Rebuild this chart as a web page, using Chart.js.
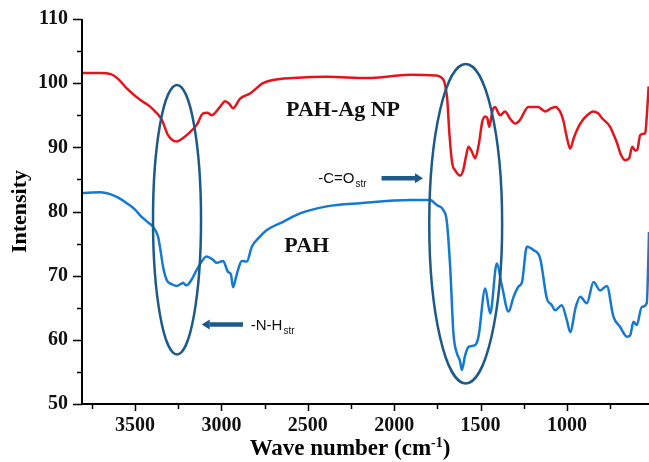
<!DOCTYPE html>
<html>
<head>
<meta charset="utf-8">
<title>FTIR - PAH / PAH-Ag NP</title>
<script src="https://cdn.jsdelivr.net/npm/chart.js@4"></script>
<style>
  html, body { margin: 0; padding: 0; background: #fff; }
</style>
</head>
<body>
<canvas id="ftir" width="649" height="462"></canvas>
<script>
// PAH-Ag NP spectrum: wavenumber (cm-1) / intensity
const agWave = [3807, 3700, 3640, 3600, 3548, 3471, 3420, 3384, 3345, 3309, 3259, 3230, 3201, 3143, 3106, 3080, 3056, 3008, 2979, 2955, 2933, 2892, 2834, 2759, 2700, 2585, 2388, 2157, 1908, 1760, 1734, 1710, 1693, 1680, 1664, 1647, 1618, 1600, 1585, 1570, 1550, 1531, 1510, 1490, 1473, 1460, 1450, 1430, 1415, 1400, 1387, 1358, 1330, 1300, 1271, 1224, 1167, 1140, 1126, 1090, 1068, 1040, 1022, 1000, 981, 960, 923, 883, 847, 820, 795, 750, 730, 709, 690, 663, 640, 622, 605, 593, 576, 555, 547, 535, 527];
const agInt  = [101.6, 101.6, 101.4, 100.7, 99.2, 97.4, 96.5, 95.6, 94.3, 91.9, 90.9, 91.3, 91.9, 93.5, 95.3, 95.4, 95.0, 96.3, 97.2, 96.8, 96.1, 97.6, 98.4, 100.0, 100.5, 100.8, 101.0, 100.8, 101.3, 101.2, 101.0, 100.2, 97.5, 92.0, 87.5, 86.4, 85.6, 86.5, 88.5, 90.1, 89.3, 88.3, 90.5, 94.0, 94.8, 94.5, 93.2, 95.8, 96.3, 95.5, 95.0, 95.6, 94.5, 93.7, 94.3, 96.3, 96.3, 95.8, 95.6, 96.1, 96.3, 95.6, 94.3, 91.5, 89.8, 91.5, 93.7, 95.0, 95.6, 95.3, 94.5, 93.2, 92.0, 90.6, 89.0, 88.0, 88.3, 90.1, 89.5, 89.6, 91.9, 92.1, 92.2, 96.0, 99.5];

// PAH spectrum
const pahWave = [3807, 3700, 3645, 3600, 3548, 3500, 3471, 3420, 3396, 3367, 3350, 3338, 3316, 3290, 3259, 3235, 3222, 3210, 3201, 3170, 3143, 3085, 3050, 3027, 2990, 2962, 2945, 2933, 2915, 2904, 2882, 2853, 2824, 2780, 2737, 2643, 2545, 2390, 2197, 1908, 1792, 1753, 1715, 1696, 1676, 1657, 1637, 1620, 1608, 1590, 1570, 1531, 1512, 1473, 1444, 1406, 1377, 1338, 1309, 1280, 1260, 1232, 1194, 1155, 1116, 1090, 1068, 1030, 1000, 981, 950, 923, 885, 846, 808, 769, 731, 692, 653, 634, 615, 596, 567, 538, 529, 525];
const pahInt  = [82.9, 83.0, 82.7, 82.2, 81.3, 80.3, 79.4, 78.2, 77.6, 76.1, 73.5, 71.4, 69.3, 68.7, 68.4, 68.7, 68.9, 68.6, 68.5, 69.5, 70.9, 73.0, 72.5, 72.0, 72.3, 70.6, 70.2, 68.2, 69.8, 70.9, 72.3, 72.2, 74.5, 76.0, 77.1, 78.4, 79.7, 80.8, 81.3, 81.8, 81.8, 81.0, 80.2, 78.6, 71.4, 61.0, 57.9, 56.8, 55.3, 57.5, 58.9, 59.2, 60.5, 68.0, 64.1, 71.9, 68.5, 64.4, 66.7, 68.3, 69.0, 74.5, 74.0, 72.7, 66.4, 65.5, 64.6, 65.4, 63.0, 61.2, 65.0, 66.7, 65.7, 69.0, 67.7, 68.4, 63.6, 62.0, 60.5, 60.7, 62.8, 62.3, 65.1, 65.7, 72.4, 76.8];

const xTicks = [3500, 3000, 2500, 2000, 1500, 1000];
const yTicks = [50, 60, 70, 80, 90, 100, 110];

const SERIF = '"Liberation Serif", "Times New Roman", serif';
const SANS = '"Liberation Sans", Arial, sans-serif';
const MARK = '#1d5a88';

// callouts, in data units
const ellipses = [
  { w: 3257, v: 78.7, rw: 139, rv: 21.0 },
  { w: 1586, v: 78.1, rw: 211, rv: 24.9 }
];
const arrows = [
  { from: [2073, 85.2], to: [1833, 85.2] },
  { from: [2875, 62.4], to: [3114, 62.4] }
];
const notes = [
  { w: 2296, v: 95.8, text: 'PAH-Ag NP' },
  { w: 2506, v: 74.6, text: 'PAH' }
];
const bands = [
  { w: 2440, v: 84.4, main: '-C=O', sub: 'str' },
  { w: 2830, v: 61.5, main: '-N-H', sub: 'str' }
];

const toPts = (xs, ys) => xs.map((w, i) => ({ x: w, y: ys[i] }));

const decor = {
  id: 'decor',
  afterDatasetsDraw(chart) {
    const { ctx, chartArea: a, scales: { x, y } } = chart;
    ctx.save();

    // axis lines
    ctx.strokeStyle = '#000';
    ctx.lineWidth = 2;
    ctx.beginPath();
    ctx.moveTo(a.left, a.top);
    ctx.lineTo(a.left, a.bottom);
    ctx.lineTo(chart.width, a.bottom);
    ctx.stroke();

    // tick marks, minor ones at half steps
    ctx.lineWidth = 1.5;
    ctx.beginPath();
    for (let v = 50; v <= 110; v += 5) {
      const py = Math.round(y.getPixelForValue(v)) + 0.5;
      const len = v % 10 === 0 ? 9 : 5;
      ctx.moveTo(a.left - len, py);
      ctx.lineTo(a.left, py);
    }
    for (let w = 750; w <= 3750; w += 250) {
      const px = Math.round(x.getPixelForValue(w)) + 0.5;
      const len = w % 500 === 0 ? 7 : 5;
      ctx.moveTo(px, a.bottom);
      ctx.lineTo(px, a.bottom + len);
    }
    ctx.stroke();

    // band ellipses
    ctx.strokeStyle = MARK;
    ctx.lineWidth = 2.5;
    ellipses.forEach(e => {
      const cx = x.getPixelForValue(e.w);
      const cy = y.getPixelForValue(e.v);
      const rx = Math.abs(x.getPixelForValue(e.w + e.rw) - cx);
      const ry = Math.abs(y.getPixelForValue(e.v + e.rv) - cy);
      ctx.beginPath();
      ctx.ellipse(cx, cy, rx, ry, 0, 0, Math.PI * 2);
      ctx.stroke();
    });

    // arrows
    ctx.fillStyle = MARK;
    arrows.forEach(ar => {
      const x0 = x.getPixelForValue(ar.from[0]);
      const y0 = y.getPixelForValue(ar.from[1]);
      const x1 = x.getPixelForValue(ar.to[0]);
      const y1 = y.getPixelForValue(ar.to[1]);
      const dir = Math.sign(x1 - x0);
      const head = 8;
      ctx.lineWidth = 4.5;
      ctx.beginPath();
      ctx.moveTo(x0, y0);
      ctx.lineTo(x1 - dir * head, y1);
      ctx.stroke();
      ctx.beginPath();
      ctx.moveTo(x1, y1);
      ctx.lineTo(x1 - dir * head, y1 - 5);
      ctx.lineTo(x1 - dir * head, y1 + 5);
      ctx.closePath();
      ctx.fill();
    });

    // sample names
    ctx.fillStyle = '#111';
    ctx.font = 'bold 22px ' + SERIF;
    ctx.textAlign = 'center';
    ctx.textBaseline = 'middle';
    notes.forEach(n => ctx.fillText(n.text, x.getPixelForValue(n.w), y.getPixelForValue(n.v)));

    // band labels with subscript
    ctx.textAlign = 'left';
    ctx.textBaseline = 'alphabetic';
    bands.forEach(b => {
      const px = x.getPixelForValue(b.w);
      const py = y.getPixelForValue(b.v);
      ctx.font = '15px ' + SANS;
      ctx.fillText(b.main, px, py);
      const wMain = ctx.measureText(b.main).width;
      ctx.font = '10px ' + SANS;
      ctx.fillText(b.sub, px + wMain + 1, py + 4);
    });

    // axis titles
    ctx.fillStyle = '#000';
    ctx.font = 'bold 22px ' + SERIF;
    ctx.textAlign = 'center';
    ctx.textBaseline = 'middle';
    ctx.save();
    ctx.translate(20, (a.top + a.bottom) / 2);
    ctx.rotate(-Math.PI / 2);
    ctx.fillText('Intensity', 0, 0);
    ctx.restore();

    const t1 = 'Wave number (cm', sup = '-1', t2 = ')';
    ctx.font = 'bold 23px ' + SERIF;
    const w1 = ctx.measureText(t1).width, w2 = ctx.measureText(t2).width;
    ctx.font = 'bold 14px ' + SERIF;
    const ws = ctx.measureText(sup).width;
    let tx = 350 - (w1 + ws + w2) / 2;
    const ty = 449;
    ctx.textAlign = 'left';
    ctx.font = 'bold 23px ' + SERIF;
    ctx.fillText(t1, tx, ty);
    tx += w1;
    ctx.font = 'bold 14px ' + SERIF;
    ctx.fillText(sup, tx, ty - 6);
    tx += ws;
    ctx.font = 'bold 23px ' + SERIF;
    ctx.fillText(t2, tx, ty);

    ctx.restore();
  }
};

new Chart(document.getElementById('ftir'), {
  type: 'line',
  data: {
    datasets: [
      {
        label: 'PAH-Ag NP',
        data: toPts(agWave, agInt),
        borderColor: '#e3141c',
        borderWidth: 2.5,
        pointRadius: 0,
        cubicInterpolationMode: 'monotone'
      },
      {
        label: 'PAH',
        data: toPts(pahWave, pahInt),
        borderColor: '#1479d0',
        borderWidth: 2.5,
        pointRadius: 0,
        cubicInterpolationMode: 'monotone'
      }
    ]
  },
  options: {
    responsive: false,
    animation: false,
    devicePixelRatio: 1,
    layout: { padding: { top: 19, right: 0, left: 0, bottom: 0 } },
    plugins: {
      legend: { display: false },
      tooltip: { enabled: false }
    },
    scales: {
      x: {
        type: 'linear',
        reverse: true,
        min: 525,
        max: 3807,
        afterBuildTicks: s => { s.ticks = xTicks.map(v => ({ value: v })); },
        afterFit: s => { s.height = 58; s.paddingLeft = 0; s.paddingRight = 0; },
        grid: { display: false, drawTicks: false },
        border: { display: false },
        ticks: {
          autoSkip: false,
          maxRotation: 0,
          padding: 10,
          color: '#111',
          font: { family: SERIF, size: 20, weight: 'bold' },
          callback: v => String(v)
        }
      },
      y: {
        min: 50,
        max: 110,
        afterBuildTicks: s => { s.ticks = yTicks.map(v => ({ value: v })); },
        afterFit: s => { s.width = 82; s.paddingTop = 0; s.paddingBottom = 0; },
        grid: { display: false, drawTicks: false },
        border: { display: false },
        ticks: {
          padding: 14,
          color: '#111',
          font: { family: SERIF, size: 20, weight: 'bold' }
        }
      }
    }
  },
  plugins: [decor]
});
</script>
</body>
</html>
